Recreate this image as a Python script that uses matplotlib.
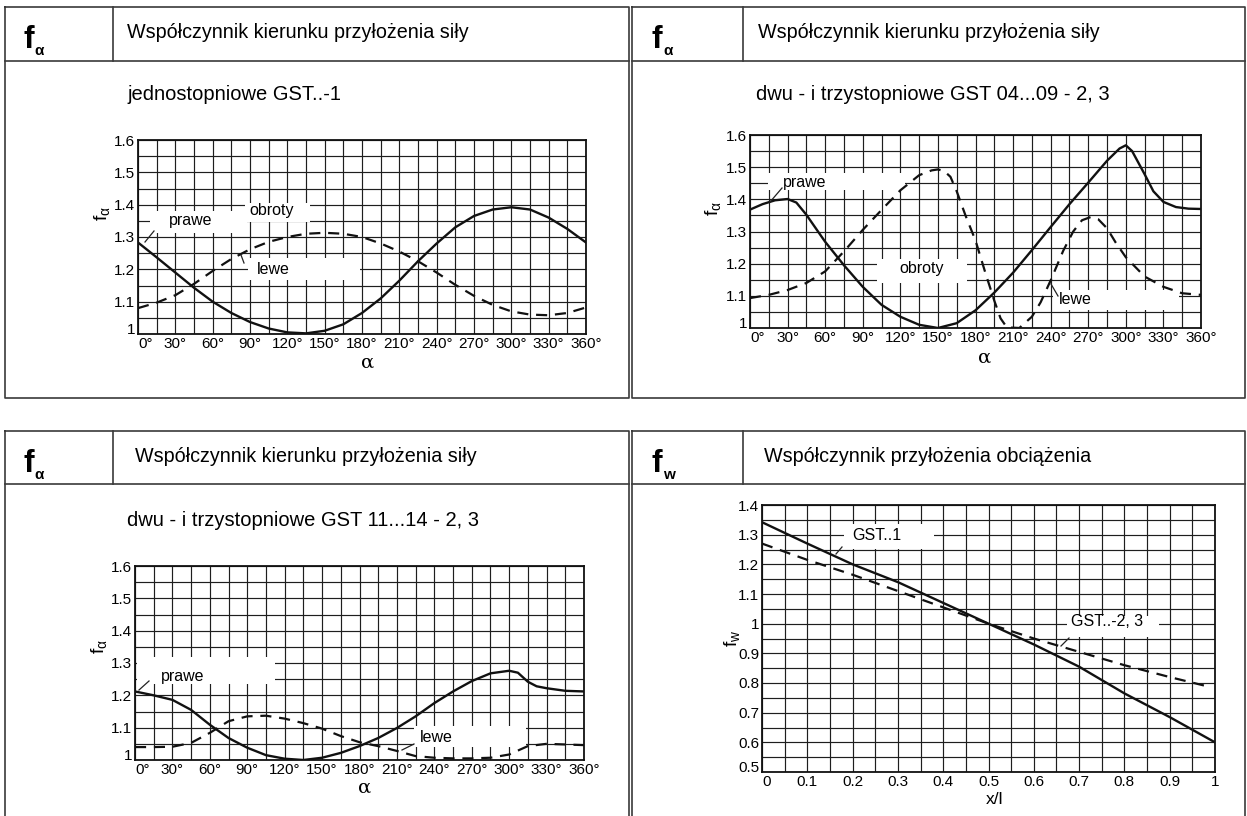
import numpy as np
import matplotlib
matplotlib.use("Agg")
import matplotlib.pyplot as plt
from matplotlib.patches import Rectangle

plt.rcParams['font.family'] = ['Liberation Sans', 'DejaVu Sans']
plt.rcParams['mathtext.fontset'] = 'custom'
plt.rcParams['mathtext.rm'] = 'Liberation Sans'
plt.rcParams['mathtext.it'] = 'Liberation Sans:italic'
plt.rcParams['mathtext.bf'] = 'Liberation Sans:bold'

# ---- data ----
alpha_1 = [0, 15, 30, 45, 60, 75, 90, 105, 120, 135, 150, 165, 180,
           195, 210, 225, 240, 255, 270, 285, 300, 315, 330, 345, 360]
prawe_1 = [1.283, 1.237, 1.19, 1.143, 1.10, 1.065, 1.037, 1.017, 1.005, 1.002, 1.01, 1.03, 1.065,
           1.11, 1.165, 1.225, 1.28, 1.33, 1.365, 1.385, 1.392, 1.385, 1.36, 1.325, 1.283]
lewe_1 = [1.08, 1.097, 1.12, 1.155, 1.195, 1.232, 1.262, 1.285, 1.30, 1.31, 1.313, 1.31, 1.30,
          1.28, 1.255, 1.225, 1.19, 1.152, 1.118, 1.09, 1.07, 1.06, 1.058, 1.065, 1.082]

alpha_2p = [0, 10, 20, 30, 37, 45, 60, 75, 90, 105, 120, 135, 150, 165, 180, 195, 210, 225,
            240, 255, 270, 285, 295, 300, 305, 315, 322, 330, 340, 350, 360]
prawe_2 = [1.368, 1.385, 1.397, 1.401, 1.39, 1.352, 1.268, 1.195, 1.128, 1.072, 1.035, 1.01, 1.0,
           1.015, 1.055, 1.11, 1.172, 1.242, 1.314, 1.385, 1.452, 1.52, 1.558, 1.568, 1.55,
           1.478, 1.425, 1.392, 1.376, 1.371, 1.37]
alpha_2l = [0, 15, 30, 45, 60, 75, 90, 105, 120, 135, 145, 150, 155, 160, 165, 172, 180, 188,
            195, 200, 205, 215, 225, 232, 240, 250, 258, 265, 272, 278, 285, 292, 300, 315,
            330, 345, 360]
lewe_2 = [1.093, 1.103, 1.118, 1.14, 1.176, 1.238, 1.305, 1.367, 1.428, 1.475, 1.49, 1.493,
          1.488, 1.47, 1.425, 1.35, 1.272, 1.17, 1.085, 1.03, 1.002, 1.0, 1.035, 1.08, 1.148,
          1.24, 1.30, 1.335, 1.345, 1.338, 1.31, 1.265, 1.22, 1.16, 1.128, 1.108, 1.103]

alpha_3p = [0, 15, 30, 45, 60, 75, 90, 105, 120, 135, 150, 165, 180, 195, 210, 225, 240,
            255, 270, 285, 300, 307, 315, 322, 330, 345, 360]
prawe_3 = [1.212, 1.2, 1.186, 1.155, 1.109, 1.068, 1.038, 1.015, 1.004, 1.0, 1.007, 1.022,
           1.043, 1.068, 1.099, 1.135, 1.176, 1.212, 1.244, 1.268, 1.276, 1.27, 1.242, 1.228,
           1.222, 1.214, 1.212]
alpha_3l = [0, 15, 30, 45, 60, 75, 90, 105, 120, 135, 150, 165, 180, 195, 210, 225, 240,
            255, 270, 285, 300, 315, 330, 345, 360]
lewe_3 = [1.04, 1.04, 1.041, 1.053, 1.084, 1.12, 1.135, 1.137, 1.128, 1.114, 1.097, 1.074,
          1.055, 1.043, 1.028, 1.012, 1.007, 1.005, 1.005, 1.007, 1.017, 1.043, 1.05, 1.048, 1.046]

xl_1 = [0, 0.1, 0.2, 0.3, 0.4, 0.5, 0.6, 0.7, 0.8, 0.9, 1.0]
gst_1 = [1.342, 1.27, 1.20, 1.14, 1.07, 1.0, 0.93, 0.855, 0.765, 0.685, 0.60]
xl_23 = [0, 0.1, 0.2, 0.3, 0.4, 0.5, 0.6, 0.7, 0.8, 0.9, 0.98]
gst_23 = [1.27, 1.215, 1.165, 1.11, 1.055, 1.0, 0.95, 0.905, 0.86, 0.82, 0.79]

alpha_ticks = list(range(0, 361, 30))
alpha_labels = [f"{a}°" for a in alpha_ticks]
fa_ticks = [1.0, 1.1, 1.2, 1.3, 1.4, 1.5, 1.6]
fa_labels = ["1", "1.1", "1.2", "1.3", "1.4", "1.5", "1.6"]
xl_ticks = [0, 0.1, 0.2, 0.3, 0.4, 0.5, 0.6, 0.7, 0.8, 0.9, 1.0]
xl_labels = ["0", "0.1", "0.2", "0.3", "0.4", "0.5", "0.6", "0.7", "0.8", "0.9", "1"]
fw_ticks = [0.5, 0.6, 0.7, 0.8, 0.9, 1.0, 1.1, 1.2, 1.3, 1.4]
fw_labels = ["0.5", "0.6", "0.7", "0.8", "0.9", "1", "1.1", "1.2", "1.3", "1.4"]

title_a = "Współczynnik kierunku przyłożenia siły"
title_w = "Współczynnik przyłożenia obciążenia"

# ---- figure in pixel units ----
W, H = 1247, 816
fig = plt.figure(figsize=(W / 100, H / 100), dpi=100)
bg = fig.add_axes([0, 0, 1, 1])
bg.set_xlim(0, W)
bg.set_ylim(H, 0)
bg.axis('off')

border = dict(color='#3a3a3a', lw=1.2)
panels = [(5, 629, 7, 398, 113, 61), (632, 1245, 7, 398, 743, 61),
          (5, 629, 431, 820, 113, 484), (632, 1245, 431, 820, 743, 484)]
for x0, x1, y0, y1, dv, hd in panels:
    bg.plot([x0, x1, x1, x0, x0], [y0, y0, y1, y1, y0], **border)
    bg.plot([dv, dv], [y0, hd], **border)
    bg.plot([x0, x1], [hd, hd], **border)

# header symbols and titles
for x, y, sub in [(23, 48, "α"), (652, 48, "α"), (23, 472, "α"), (652, 472, "w")]:
    bg.text(x, y, "f", fontsize=23, fontweight='bold', va='baseline')
    bg.text(x + 11, y + 7, sub, fontsize=11, fontweight='bold', va='baseline')
bg.text(127, 38, title_a, fontsize=14.2, va='baseline')
bg.text(758, 38, title_a, fontsize=14.2, va='baseline')
bg.text(135, 462, title_a, fontsize=14.2, va='baseline')
bg.text(764, 462, title_w, fontsize=14.2, va='baseline')

bg.text(127, 100, "jednostopniowe GST..-1", fontsize=14.5, va='baseline')
bg.text(756, 100, "dwu - i trzystopniowe GST 04...09 - 2, 3", fontsize=14.5, va='baseline')
bg.text(127, 526, "dwu - i trzystopniowe GST 11...14 - 2, 3", fontsize=14.5, va='baseline')

fa_lab = r"$\mathregular{f_{α}}$"
fw_lab = r"$\mathregular{f_{w}}$"
for x, y, t in [(102, 213, fa_lab), (713, 208, fa_lab), (99, 646, fa_lab), (732, 638, fw_lab)]:
    bg.text(x, y, t, fontsize=14, rotation=90, ha='center', va='center')
for x, y in [(368, 363), (985, 358), (365, 788)]:
    bg.text(x, y, "α", fontsize=14, ha='center', va='center', family=['DejaVu Serif'])
bg.text(995, 800, "x/l", fontsize=12.5, ha='center', va='center')

tick_font = ['Liberation Sans Narrow', 'Liberation Sans', 'DejaVu Sans']


def make_axes(box):
    x0, x1, y0, y1 = box
    ax = fig.add_axes([x0 / W, 1 - y1 / H, (x1 - x0) / W, (y1 - y0) / H])
    for s in ax.spines.values():
        s.set_linewidth(1.3)
        s.set_color('#111')
    ax.tick_params(which='both', length=0, labelsize=11, pad=2)
    ax.grid(which='both', color='#1e1e1e', lw=0.85)
    return ax


def fix_tick_font(ax):
    for lab in ax.get_xticklabels() + ax.get_yticklabels():
        lab.set_family(tick_font)
    # corner labels: keep "1"/"0.5" above and "0°"/"0" to the right of the corner
    ax.get_yticklabels()[0].set_va('baseline')
    ax.get_xticklabels()[0].set_ha('left')


def alpha_axes(box):
    ax = make_axes(box)
    ax.set_xlim(0, 360)
    ax.set_ylim(1, 1.6)
    ax.set_xticks(alpha_ticks)
    ax.set_xticklabels(alpha_labels)
    ax.set_xticks(np.arange(0, 361, 15), minor=True)
    ax.set_yticks(fa_ticks)
    ax.set_yticklabels(fa_labels)
    ax.set_yticks(np.arange(1, 1.6001, 0.05), minor=True)
    fix_tick_font(ax)
    return ax


def note(ax, box, text, tx, ty, leader):
    x0, x1, y0, y1 = box

    def conv(px, py):
        return (px - x0) / (x1 - x0), (y1 - py) / (y1 - y0)
    bx0, by0 = conv(text[1][0], text[1][3])
    bx1, by1 = conv(text[1][1], text[1][2])
    ax.add_patch(Rectangle((bx0, by0), bx1 - bx0, by1 - by0, transform=ax.transAxes,
                           facecolor='white', edgecolor='none', zorder=1.8, clip_on=False))
    px, py = conv(tx, ty)
    ax.text(px, py, text[0], transform=ax.transAxes, fontsize=11.5, va='center', zorder=4)
    if leader:
        (lx0, ly0), (lx1, ly1) = conv(*leader[0]), conv(*leader[1])
        ax.plot([lx0, lx1], [ly0, ly1], transform=ax.transAxes, color='#222', lw=0.9,
                zorder=4, clip_on=False)


solid = dict(color='#111', lw=1.7, zorder=3)
dashed = dict(color='#111', lw=1.6, zorder=3, dashes=(5, 3.5))

# panel 1
box1 = (138, 586, 140, 334)
ax1 = alpha_axes(box1)
ax1.plot(alpha_1, prawe_1, **solid)
ax1.plot(alpha_1, lewe_1, **dashed)
note(ax1, box1, ("obroty", (245, 310, 203, 222)), 249, 211, None)
note(ax1, box1, ("prawe", (150, 247, 211, 233)), 169, 220, [(145, 242), (154, 231)])
note(ax1, box1, ("lewe", (248, 360, 258, 280)), 257, 269, [(244, 263), (241, 255)])

# panel 2
box2 = (750, 1201, 135, 328)
ax2 = alpha_axes(box2)
ax2.plot(alpha_2p, prawe_2, **solid)
ax2.plot(alpha_2l, lewe_2, **dashed)
note(ax2, box2, ("prawe", (768, 905, 173, 190)), 783, 182, [(770, 202), (782, 188)])
note(ax2, box2, ("obroty", (877, 967, 259, 283)), 899, 268, None)
note(ax2, box2, ("lewe", (1053, 1179, 290, 310)), 1059, 300, [(1051, 284), (1058, 296)])

# panel 3
box3 = (135, 584, 566, 760)
ax3 = alpha_axes(box3)
ax3.plot(alpha_3p, prawe_3, **solid)
ax3.plot(alpha_3l, lewe_3, **dashed)
note(ax3, box3, ("prawe", (137, 275, 657, 684)), 161, 676, [(139, 690), (149, 681)])
note(ax3, box3, ("lewe", (414, 526, 726, 747)), 420, 737, [(402, 750), (414, 744)])

# panel 4
box4 = (762, 1215, 505, 772)
ax4 = make_axes(box4)
ax4.set_xlim(0, 1)
ax4.set_ylim(0.5, 1.4)
ax4.set_xticks(xl_ticks)
ax4.set_xticklabels(xl_labels)
ax4.set_xticks(np.arange(0, 1.0001, 0.05), minor=True)
ax4.set_yticks(fw_ticks)
ax4.set_yticklabels(fw_labels)
ax4.set_yticks(np.arange(0.5, 1.4001, 0.05), minor=True)
fix_tick_font(ax4)
ax4.plot(xl_1, gst_1, **solid)
ax4.plot(xl_23, gst_23, **dashed)
note(ax4, box4, ("GST..1", (844, 934, 524, 549)), 852, 535, [(836, 554), (842, 547)])
note(ax4, box4, ("GST..-2, 3", (1067, 1159, 616, 637)), 1071, 621, [(1061, 646), (1069, 638)])

fig.savefig("out.png", dpi=100)
